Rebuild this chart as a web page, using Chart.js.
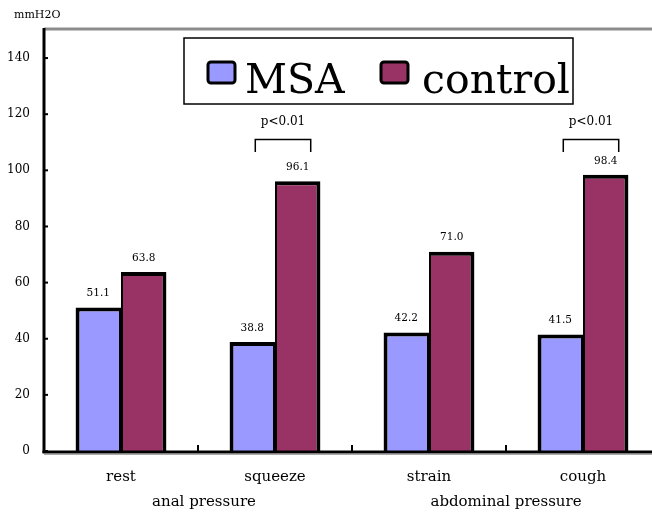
<!DOCTYPE html>
<html>
<head>
<meta charset="utf-8">
<script src="https://cdn.jsdelivr.net/npm/chart.js@4/dist/chart.umd.min.js"></script>
<style>
  html, body { margin: 0; padding: 0; background: #fff; overflow: hidden; }
  #wrap { width: 652px; height: 515px; overflow: hidden; }
</style>
</head>
<body>
<div id="wrap"><canvas id="chart" width="670" height="515"></canvas></div>
<script>
// datos
const categories = ['rest', 'squeeze', 'strain', 'cough'];
const groups = ['anal pressure', 'abdominal pressure'];
const msaValues = [51.1, 38.8, 42.2, 41.5];
const controlValues = [63.8, 96.1, 71.0, 98.4];
const yTicks = [0, 20, 40, 60, 80, 100, 120, 140];
const sigCategories = ['squeeze', 'cough'];
const sigText = 'p<0.01';
const unitText = 'mmH2O';

const SERIF = "'DejaVu Serif', serif";

// ejes, corchetes de significancia, etiquetas de grupo
const decorPlugin = {
  id: 'decor',
  afterDatasetsDraw(chart) {
    const { ctx, chartArea: a, scales: { x, y } } = chart;
    const W = chart.width;
    ctx.save();

    // línea gris de arriba
    ctx.strokeStyle = '#8c8c8c';
    ctx.lineWidth = 3;
    ctx.beginPath(); ctx.moveTo(a.left, a.top - 1); ctx.lineTo(W, a.top - 1); ctx.stroke();

    // eje x (con sombra gris)
    ctx.strokeStyle = '#aaa';
    ctx.lineWidth = 1;
    ctx.beginPath(); ctx.moveTo(a.left, a.bottom + 3.5); ctx.lineTo(W, a.bottom + 3.5); ctx.stroke();
    ctx.strokeStyle = '#000';
    ctx.lineWidth = 3;
    ctx.beginPath(); ctx.moveTo(a.left - 1.5, a.bottom + 1); ctx.lineTo(W, a.bottom + 1); ctx.stroke();

    // eje y
    ctx.beginPath(); ctx.moveTo(a.left, a.top - 2); ctx.lineTo(a.left, a.bottom + 2); ctx.stroke();

    // marcas del eje y (hacia dentro)
    ctx.lineWidth = 2;
    yTicks.forEach(v => {
      const py = y.getPixelForValue(v);
      ctx.beginPath(); ctx.moveTo(a.left, py); ctx.lineTo(a.left + 4, py); ctx.stroke();
    });

    // marcas del eje x entre categorías
    const step = x.getPixelForValue(1) - x.getPixelForValue(0);
    for (let i = 1; i < categories.length; i++) {
      const px = x.getPixelForValue(i) - step / 2;
      ctx.beginPath(); ctx.moveTo(px, a.bottom); ctx.lineTo(px, a.bottom - 6); ctx.stroke();
    }

    // valores encima de las barras
    ctx.fillStyle = '#000';
    ctx.font = "10.5px " + SERIF;
    ctx.textAlign = 'center';
    ctx.textBaseline = 'middle';
    chart.data.datasets.forEach((ds, di) => {
      chart.getDatasetMeta(di).data.forEach((bar, i) => {
        ctx.fillText(ds.data[i].toFixed(1), bar.x, bar.y - 14);
      });
    });

    // corchetes p<0.01
    const msaMeta = chart.getDatasetMeta(0).data;
    const ctlMeta = chart.getDatasetMeta(1).data;
    sigCategories.forEach(cat => {
      const i = categories.indexOf(cat);
      const x1 = msaMeta[i].x + 3;
      const x2 = ctlMeta[i].x + 13;
      const top = y.getPixelForValue(111);
      const bot = y.getPixelForValue(106.5);
      ctx.strokeStyle = '#000';
      ctx.lineWidth = 1.5;
      ctx.beginPath();
      ctx.moveTo(x1, bot); ctx.lineTo(x1, top); ctx.lineTo(x2, top); ctx.lineTo(x2, bot);
      ctx.stroke();
      ctx.font = "12px " + SERIF;
      ctx.fillText(sigText, (x1 + x2) / 2, top - 18);
    });

    // etiquetas de grupo bajo las categorías
    ctx.font = "15px " + SERIF;
    groups.forEach((g, gi) => {
      const px = (x.getPixelForValue(gi * 2) + x.getPixelForValue(gi * 2 + 1)) / 2;
      ctx.fillText(g, px + (gi === 0 ? 6 : 0), a.bottom + 51);
    });

    // unidad
    ctx.font = "11px " + SERIF;
    ctx.textAlign = 'left';
    ctx.fillText(unitText, 14, 15);

    // leyenda
    const lx = 184, ly = 38, lw = 389, lh = 66;
    ctx.fillStyle = '#fff';
    ctx.fillRect(lx, ly, lw, lh);
    ctx.strokeStyle = '#000';
    ctx.lineWidth = 1.5;
    ctx.strokeRect(lx, ly, lw, lh);
    const items = [[208, 245], [381, 422]];
    chart.data.datasets.forEach((ds, di) => {
      const [sx, tx] = items[di];
      ctx.fillStyle = ds.backgroundColor;
      ctx.strokeStyle = '#000';
      ctx.lineWidth = 3;
      ctx.beginPath();
      ctx.roundRect(sx, 62, 27, 21, 3);
      ctx.fill();
      ctx.stroke();
      ctx.fillStyle = '#000';
      ctx.font = "41px " + SERIF;
      ctx.textBaseline = 'alphabetic';
      ctx.fillText(ds.label, tx, 93);
    });

    ctx.restore();
  }
};

new Chart(document.getElementById('chart'), {
  type: 'bar',
  data: {
    labels: categories,
    datasets: [
      {
        label: 'MSA',
        data: msaValues,
        backgroundColor: '#9999ff',
        borderColor: '#000',
        borderWidth: { left: 4, top: 4, right: 2, bottom: 0 },
        borderSkipped: false
      },
      {
        label: 'control',
        data: controlValues,
        backgroundColor: '#993366',
        borderColor: '#000',
        borderWidth: { left: 2, top: 4, right: 4, bottom: 0 },
        borderSkipped: false
      }
    ]
  },
  options: {
    responsive: false,
    animation: false,
    events: [],
    layout: { padding: { top: 30, right: 10, left: 0, bottom: 0 } },
    datasets: { bar: { categoryPercentage: 0.59, barPercentage: 1.0 } },
    plugins: {
      legend: { display: false },
      tooltip: { enabled: false }
    },
    scales: {
      x: {
        grid: { display: false, drawTicks: false },
        border: { display: false },
        ticks: { color: '#000', font: { family: SERIF, size: 15 }, padding: 17 },
        afterFit: s => { s.height = 64; }
      },
      y: {
        min: 0,
        max: 150,
        grid: { display: false, drawTicks: false },
        border: { display: false },
        ticks: { color: '#000', font: { family: SERIF, size: 12 }, padding: 14 },
        afterBuildTicks: s => { s.ticks = yTicks.map(v => ({ value: v })); },
        afterFit: s => { s.width = 44; }
      }
    }
  },
  plugins: [decorPlugin]
});
</script>
</body>
</html>
